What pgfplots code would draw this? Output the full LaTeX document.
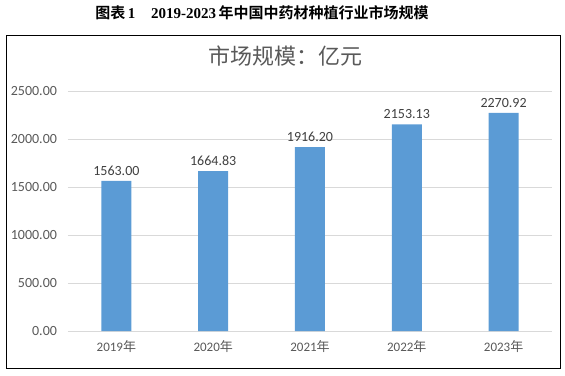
\documentclass[border=0pt]{standalone}
\usepackage{fontspec}
\setmainfont{Carlito}
\newfontfamily\cjk{Noto Sans CJK SC}
\newfontfamily\cjkb{Noto Sans CJK SC Bold}
\newfontfamily\serifb{Liberation Serif}[BoldFont={* Bold}]
\usepackage{pgfplots}
\pgfplotsset{compat=1.18}
\definecolor{barblue}{HTML}{5B9BD5}
\definecolor{txtgray}{HTML}{595959}
\definecolor{lblgray}{HTML}{404040}
\definecolor{gridgray}{HTML}{D9D9D9}
\begin{document}
\begin{tikzpicture}
\path[use as bounding box] (0pt,0pt) rectangle (565pt,-375pt);
\draw[line width=1pt] (6pt,-35pt) rectangle (560pt,-368pt);
\node[inner sep=0pt] at (262pt,-13pt) {\fontsize{15}{15}\selectfont\cjkb 图表\,{\serifb\bfseries 1}\hspace{16pt}{\serifb\bfseries 2019-2023}\,年中国中药材种植行业市场规模};
\node[inner sep=0pt, text=txtgray] at (285pt,-56pt) {\fontsize{22}{22}\selectfont\cjk 市场规模：亿元};
\begin{axis}[
  at={(68pt,-331pt)}, anchor=south west,
  scale only axis, width=484pt, height=240pt,
  xmin=-0.5, xmax=4.5, ymin=0, ymax=2500,
  ytick={0,500,...,2500},
  xtick={0,1,2,3,4},
  xticklabels={2019{\cjk 年},2020{\cjk 年},2021{\cjk 年},2022{\cjk 年},2023{\cjk 年}},
  axis line style={draw=none},
  major tick length=0pt,
  ymajorgrids, grid style={gridgray, line width=0.8pt},
  ybar, bar width=30pt,
  /pgf/number format/assume math mode=true,
  ticklabel style={text=txtgray, font=\fontsize{13}{13}\selectfont},
  yticklabel style={/pgf/number format/fixed, /pgf/number format/fixed zerofill, /pgf/number format/precision=2, /pgf/number format/set thousands separator={}, xshift=-7.5pt, font=\fontsize{14}{14}\selectfont},
  xticklabel style={yshift=-6pt},
  point meta=explicit symbolic,
  nodes near coords,
  nodes near coords style={text=lblgray, font=\fontsize{14}{14}\selectfont, yshift=2pt},
  clip=false,
]
\addplot[fill=barblue, draw=none] coordinates {
  (0,1563.00) [1563.00]
  (1,1664.83) [1664.83]
  (2,1916.20) [1916.20]
  (3,2153.13) [2153.13]
  (4,2270.92) [2270.92]
};
\end{axis}
\end{tikzpicture}
\end{document}
